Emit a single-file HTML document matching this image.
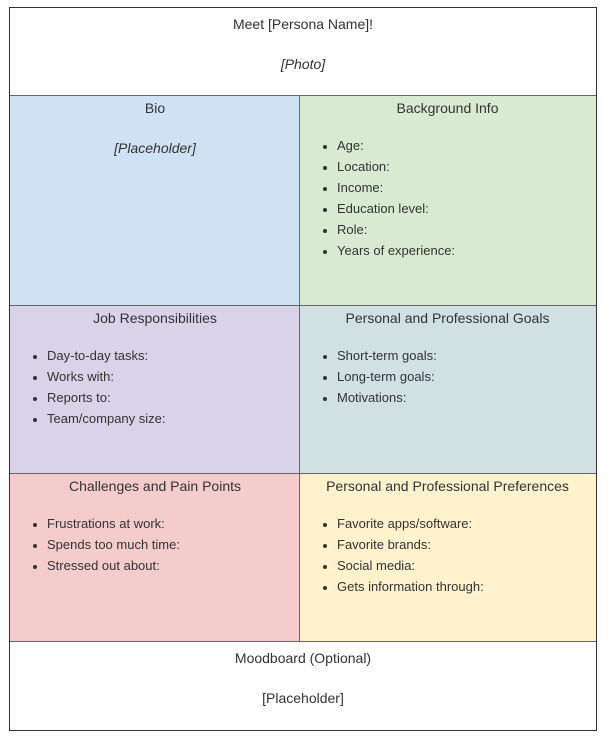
<!DOCTYPE html>
<html><head><meta charset="utf-8"><style>
body{margin:0;background:#fff;width:610px;height:738px;position:relative;font-family:"Liberation Sans",sans-serif;color:#333;font-size:13px;}
.b{position:absolute;box-sizing:border-box;}
.t{position:absolute;left:0;right:0;text-align:center;font-size:14px;}
.l{position:absolute;}
.l div{position:absolute;white-space:nowrap;}
.l div:before{content:"";position:absolute;left:-14px;top:7px;width:4px;height:4px;border-radius:50%;background:#333;}
</style></head><body>
<div class="b" style="left:9px;top:7px;width:588px;height:724px;border:1.5px solid #333;"></div>
<div class="b" style="left:10px;top:95px;width:290px;height:211px;background:#cfe2f3;border-top:1px solid #666;"></div>
<div class="b" style="left:299px;top:95px;width:297px;height:211px;background:#d9ead3;border-top:1px solid #666;"></div>
<div class="b" style="left:10px;top:305px;width:290px;height:169px;background:#d9d2e9;border-top:1px solid #666;"></div>
<div class="b" style="left:299px;top:305px;width:297px;height:169px;background:#d0e0e3;border-top:1px solid #666;"></div>
<div class="b" style="left:10px;top:473px;width:290px;height:169px;background:#f4cccc;border-top:1px solid #666;border-bottom:1px solid #666;"></div>
<div class="b" style="left:299px;top:473px;width:297px;height:169px;background:#fff2cc;border-top:1px solid #666;border-bottom:1px solid #666;"></div>
<div class="b" style="left:299px;top:95px;width:1px;height:547px;background:#666;"></div>

<div class="t" style="left:9px;width:588px;top:16px;">Meet [Persona Name]!</div>
<div class="t" style="left:9px;width:588px;top:56px;font-style:italic;">[Photo]</div>
<div class="t" style="left:10px;width:290px;right:auto;top:100px;">Bio</div>
<div class="t" style="left:10px;width:290px;right:auto;top:140px;font-style:italic;">[Placeholder]</div>
<div class="t" style="left:299px;width:297px;right:auto;top:100px;">Background Info</div>
<div class="l" style="left:337px;top:138px;"><div style="top:0">Age:</div><div style="top:21px">Location:</div><div style="top:42px">Income:</div><div style="top:63px">Education level:</div><div style="top:84px">Role:</div><div style="top:105px">Years of experience:</div></div>
<div class="t" style="left:10px;width:290px;right:auto;top:310px;">Job Responsibilities</div>
<div class="l" style="left:47px;top:348px;"><div style="top:0">Day-to-day tasks:</div><div style="top:21px">Works with:</div><div style="top:42px">Reports to:</div><div style="top:63px">Team/company size:</div></div>
<div class="t" style="left:299px;width:297px;right:auto;top:310px;">Personal and Professional Goals</div>
<div class="l" style="left:337px;top:348px;"><div style="top:0">Short-term goals:</div><div style="top:21px">Long-term goals:</div><div style="top:42px">Motivations:</div></div>
<div class="t" style="left:10px;width:290px;right:auto;top:478px;">Challenges and Pain Points</div>
<div class="l" style="left:47px;top:516px;"><div style="top:0">Frustrations at work:</div><div style="top:21px">Spends too much time:</div><div style="top:42px">Stressed out about:</div></div>
<div class="t" style="left:299px;width:297px;right:auto;top:478px;">Personal and Professional Preferences</div>
<div class="l" style="left:337px;top:516px;"><div style="top:0">Favorite apps/software:</div><div style="top:21px">Favorite brands:</div><div style="top:42px">Social media:</div><div style="top:63px">Gets information through:</div></div>
<div class="t" style="left:9px;width:588px;right:auto;top:650px;">Moodboard (Optional)</div>
<div class="t" style="left:9px;width:588px;right:auto;top:690px;">[Placeholder]</div>
</body></html>
